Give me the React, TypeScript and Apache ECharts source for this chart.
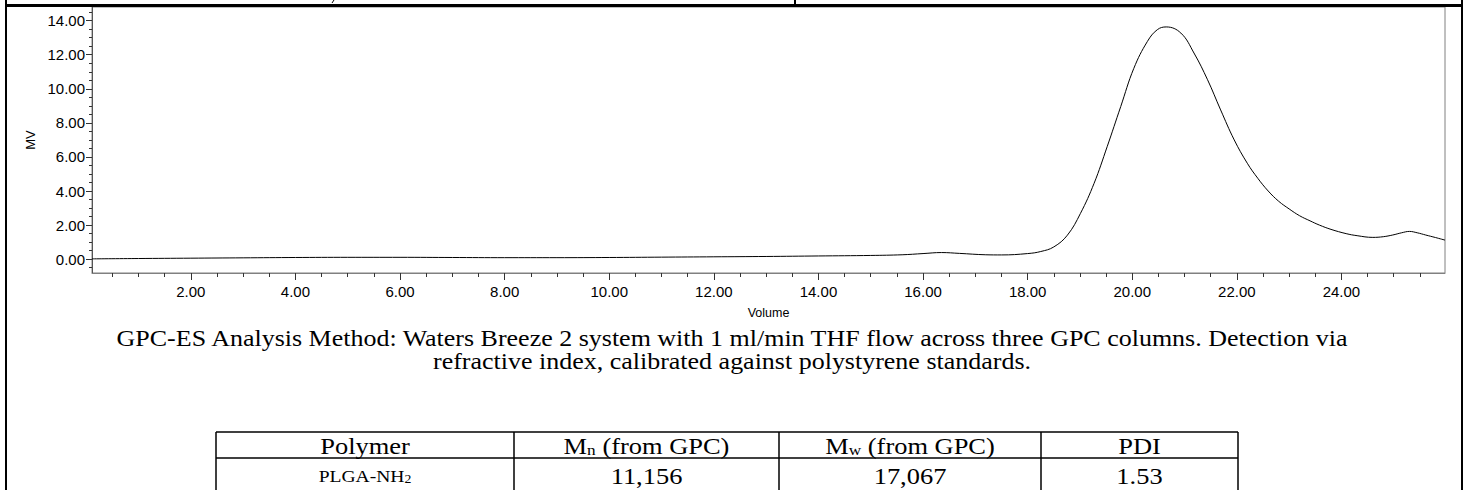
import React, { useEffect, useRef } from "react";
import * as echarts from "echarts";

// Chromatogram (Volume vs MV)
const volume = [
  0.11, 1.0, 2.0, 3.0, 4.0, 5.0, 6.0, 7.0, 8.0, 9.0, 10.0, 11.0, 12.0, 13.0, 14.0, 15.0, 15.6,
  16.0, 16.35, 16.7, 17.2, 17.5, 18.0, 18.25, 18.5, 18.76, 19.01, 19.27, 19.52, 19.78, 20.03,
  20.29, 20.48, 20.65, 20.93, 21.18, 21.44, 21.69, 21.95, 22.2, 22.4, 22.6, 22.8, 23.0, 23.2, 23.4,
  23.58, 23.8, 24.09, 24.3, 24.6, 24.8, 24.98, 25.15, 25.3, 25.45, 25.61, 25.8, 25.98,
];
const mv = [
  0.02, 0.04, 0.06, 0.08, 0.1, 0.11, 0.11, 0.1, 0.09, 0.09, 0.1, 0.12, 0.14, 0.16, 0.19, 0.22, 0.26,
  0.33, 0.39, 0.34, 0.26, 0.25, 0.33, 0.45, 0.72, 1.41, 2.69, 4.45, 6.6, 8.96, 11.2,
  12.78, 13.47, 13.63, 13.27, 12.1, 10.53, 8.76, 7.0, 5.63, 4.75, 4.0, 3.4, 2.95, 2.55, 2.25,
  2.0, 1.75, 1.5, 1.38, 1.28, 1.32, 1.42, 1.55, 1.63, 1.55, 1.42, 1.27, 1.12,
];
const xTicks = [2, 4, 6, 8, 10, 12, 14, 16, 18, 20, 22, 24];
const yTicks = [0, 2, 4, 6, 8, 10, 12, 14];

const captionLines = [
  "GPC-ES Analysis Method: Waters Breeze 2 system with 1 ml/min THF flow across three GPC columns. Detection via",
  "refractive index, calibrated against polystyrene standards.",
];
const tableHeaders = ["{t|Polymer}", "{t|M}{s|n}{t| (from GPC)}", "{t|M}{s|w}{t| (from GPC)}", "{t|PDI}"];
const tableRow = ["{p|PLGA-NH}{ps|2}", "{t|11,156}", "{t|17,067}", "{t|1.53}"];

const serif = "'Liberation Serif', 'Times New Roman', serif";
const sans = "'Liberation Sans', Arial, sans-serif";

export default function App() {
  const ref = useRef<HTMLDivElement>(null);
  useEffect(() => {
    if (!ref.current) return;
    const chart = echarts.init(ref.current, undefined, { renderer: "svg" });

    const colX = [216, 514, 779, 1041, 1238];
    const tTop = 432, tMid = 458, tBot = 492;
    const capStretch = 1.13;
    const tabStretch = 1.15;
    const rich = {
      t: { fontFamily: serif, fontSize: 23, color: "#000" },
      s: { fontFamily: serif, fontSize: 15, color: "#000", verticalAlign: "bottom", padding: [8, 0, 0, 0] },
      p: { fontFamily: serif, fontSize: 17, color: "#000" },
      ps: { fontFamily: serif, fontSize: 12, color: "#000", padding: [6, 0, 0, 0] },
    };
    const graphics: any[] = [
      { type: "rect", shape: { x: 5, y: 4, width: 1458, height: 3 }, style: { fill: "#000" }, z: 100 },
      { type: "rect", shape: { x: 5, y: 0, width: 2, height: 490 }, style: { fill: "#000" }, z: 100 },
      { type: "rect", shape: { x: 1461, y: 0, width: 2, height: 490 }, style: { fill: "#000" }, z: 100 },
      { type: "rect", shape: { x: 794, y: 0, width: 2, height: 5 }, style: { fill: "#000" }, z: 100 },
      { type: "line", shape: { x1: 334, y1: 0, x2: 332, y2: 3 }, style: { stroke: "#000", lineWidth: 1 }, z: 100 },
    ];
    captionLines.forEach((line, i) => {
      graphics.push({
        type: "text",
        x: 732,
        y: 338 + i * 23,
        scaleX: capStretch,
        style: { text: line, font: `23px ${serif}`, fill: "#000", textAlign: "center", textVerticalAlign: "middle" },
      });
    });
    // table lines
    graphics.push({ type: "line", shape: { x1: colX[0], y1: tTop, x2: colX[4], y2: tTop }, style: { stroke: "#000", lineWidth: 1.5 } });
    graphics.push({ type: "line", shape: { x1: colX[0], y1: tMid, x2: colX[4], y2: tMid }, style: { stroke: "#000", lineWidth: 1.5 } });
    colX.forEach((cx) => {
      graphics.push({ type: "line", shape: { x1: cx, y1: tTop, x2: cx, y2: tBot }, style: { stroke: "#000", lineWidth: 1.5 } });
    });
    tableHeaders.forEach((h, i) => {
      graphics.push({
        type: "text",
        x: (colX[i] + colX[i + 1]) / 2,
        y: (tTop + tMid) / 2 + 1,
        scaleX: tabStretch,
        style: { text: h, rich, textAlign: "center", textVerticalAlign: "middle" },
      });
    });
    tableRow.forEach((h, i) => {
      graphics.push({
        type: "text",
        x: (colX[i] + colX[i + 1]) / 2,
        y: tMid + 18,
        scaleX: tabStretch,
        style: { text: h, rich, textAlign: "center", textVerticalAlign: "middle" },
      });
    });

    chart.setOption({
      animation: false,
      backgroundColor: "#fff",
      grid: { left: 92, top: 7, width: 1353, height: 266, show: true, borderColor: "#808080", borderWidth: 1, containLabel: false },
      xAxis: {
        type: "value",
        min: 0.11,
        max: 25.98,
        minInterval: 2,
        maxInterval: 2,
        axisLine: { show: true, onZero: false, lineStyle: { color: "#808080", width: 1 } },
        axisTick: { show: true, length: 7, customValues: xTicks, lineStyle: { color: "#333" } },
        minorTick: { show: true, splitNumber: 4, length: 4, lineStyle: { color: "#333" } },
        axisLabel: {
          customValues: xTicks,
          formatter: (v: number) => v.toFixed(2),
          fontFamily: sans,
          fontSize: 15,
          color: "#000",
          margin: 11,
        },
        splitLine: { show: false },
        minorSplitLine: { show: false },
        name: "Volume",
        nameLocation: "middle",
        nameGap: 33,
        nameTextStyle: { fontFamily: sans, fontSize: 12.5, color: "#000" },
      },
      yAxis: {
        type: "value",
        min: -0.81,
        max: 14.8,
        minInterval: 2,
        maxInterval: 2,
        axisLine: { show: true, onZero: false, lineStyle: { color: "#555", width: 1 } },
        axisTick: { show: true, length: 6, customValues: yTicks, lineStyle: { color: "#333" } },
        minorTick: { show: true, splitNumber: 4, length: 3, lineStyle: { color: "#333" } },
        axisLabel: {
          customValues: yTicks,
          formatter: (v: number) => v.toFixed(2),
          fontFamily: sans,
          fontSize: 15,
          color: "#000",
          margin: 7,
        },
        splitLine: { show: false },
        name: "MV",
        nameLocation: "middle",
        nameRotate: 90,
        nameGap: 55,
        nameTextStyle: { fontFamily: sans, fontSize: 13, color: "#000" },
      },
      series: [
        {
          type: "line",
          data: volume.map((v, i) => [v, mv[i]]),
          showSymbol: false,
          smooth: 0.4,
          lineStyle: { color: "#000", width: 1 },
          silent: true,
        },
      ],
      graphic: graphics,
    });
    return () => chart.dispose();
  }, []);
  return <div ref={ref} style={{ position: "fixed", left: 0, top: 0, width: 1465, height: 490 }} />;
}
